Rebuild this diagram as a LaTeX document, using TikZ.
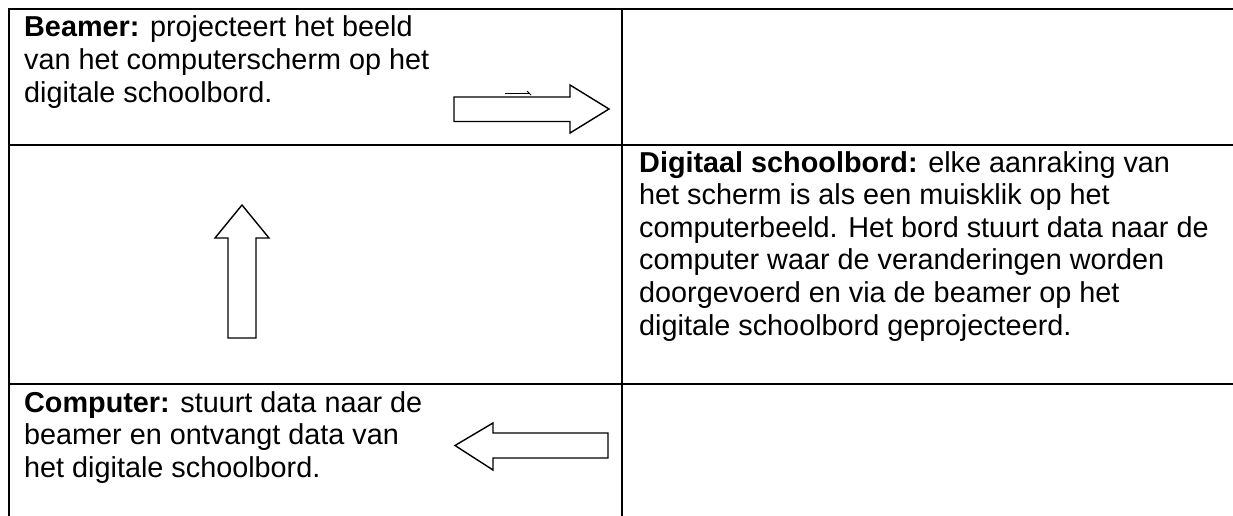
\documentclass[tikz,border=0pt]{standalone}
\usepackage{fontspec}
\setmainfont{Liberation Sans}
\begin{document}
\begin{tikzpicture}[x=1pt,y=-1pt,
  grid/.style={line width=2.4pt,black},
  blockarrow/.style={line width=1.4pt,black,fill=white,line join=miter},
  txt/.style={anchor=base west,inner sep=0pt,font=\fontsize{28.8}{33}\selectfont}]
\useasboundingbox[fill=white] (0,0) rectangle (1233,516);
% table grid
\draw[grid] (7.8,9) -- (1233,9);
\draw[grid] (7.8,145) -- (1233,145);
\draw[grid] (7.8,384) -- (1233,384);
\draw[grid] (9,7.8) -- (9,516);
\draw[grid] (622,7.8) -- (622,516);
% cell texts
\node[txt] (b1) at (24,37) {\textbf{Beamer:} projecteert het beeld};
\node[txt] (b2) at (24,69.6) {van het computerscherm op het};
\node[txt] (b3) at (24,102.2) {digitale schoolbord.};
\node[txt] (d1) at (639,172) {\textbf{Digitaal schoolbord:} elke aanraking van};
\node[txt] (d2) at (639,204.6) {het scherm is als een muisklik op het};
\node[txt] (d3) at (639,237.2) {computerbeeld. Het bord stuurt data naar de};
\node[txt] (d4) at (639,269.8) {computer waar de veranderingen worden};
\node[txt] (d5) at (639,302.4) {doorgevoerd en via de beamer op het};
\node[txt] (d6) at (639,335) {digitale schoolbord geprojecteerd.};
\node[txt] (c1) at (24,412) {\textbf{Computer:} stuurt data naar de};
\node[txt] (c2) at (24,444.6) {beamer en ontvangt data van};
\node[txt] (c3) at (24,477.2) {het digitale schoolbord.};
% right arrow
\draw[blockarrow] (454,97) -- (570,97) -- (570,85) -- (609,109) -- (570,133)
  -- (570,121.5) -- (454,121.5) -- cycle;
\draw[line width=1pt] (505,93.5) -- (530,93.5);
\draw[line width=1pt] (527,91) -- (531,95);
% up arrow
\draw[blockarrow] (228,338) -- (228,238) -- (215,238) -- (242,205) -- (269,238)
  -- (256,238) -- (256,338) -- cycle;
% left arrow
\draw[blockarrow] (608,433) -- (493,433) -- (493,423) -- (455,445.5) -- (493,470)
  -- (493,458) -- (608,458) -- cycle;
\end{tikzpicture}
\end{document}
